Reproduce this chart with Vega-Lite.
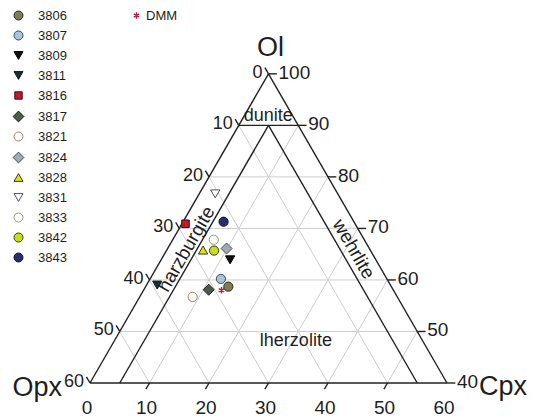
{
  "$schema": "https://vega.github.io/schema/vega-lite/v6.json",
  "width": 533,
  "height": 419,
  "autosize": "none",
  "padding": 0,
  "background": "white",
  "config": {
    "view": {"stroke": null},
    "font": "Liberation Sans, Arial, sans-serif",
    "text": {"color": "#1e1e1e"}
  },
  "datasets": {
    "lines": [
      {"kind": "grid", "ol1": 50, "cpx1": 0, "ol2": 50, "cpx2": 50},
      {"kind": "grid", "ol1": 60, "cpx1": 0, "ol2": 60, "cpx2": 40},
      {"kind": "grid", "ol1": 70, "cpx1": 0, "ol2": 70, "cpx2": 30},
      {"kind": "grid", "ol1": 80, "cpx1": 0, "ol2": 80, "cpx2": 20},
      {"kind": "grid", "ol1": 40, "cpx1": 10, "ol2": 90, "cpx2": 10},
      {"kind": "grid", "ol1": 40, "cpx1": 20, "ol2": 80, "cpx2": 20},
      {"kind": "grid", "ol1": 40, "cpx1": 30, "ol2": 70, "cpx2": 30},
      {"kind": "grid", "ol1": 40, "cpx1": 40, "ol2": 60, "cpx2": 40},
      {"kind": "grid", "ol1": 40, "cpx1": 50, "ol2": 50, "cpx2": 50},
      {"kind": "grid", "ol1": 40, "cpx1": 50, "ol2": 90, "cpx2": 0},
      {"kind": "grid", "ol1": 40, "cpx1": 40, "ol2": 80, "cpx2": 0},
      {"kind": "grid", "ol1": 40, "cpx1": 30, "ol2": 70, "cpx2": 0},
      {"kind": "grid", "ol1": 40, "cpx1": 20, "ol2": 60, "cpx2": 0},
      {"kind": "grid", "ol1": 40, "cpx1": 10, "ol2": 50, "cpx2": 0},
      {"kind": "frame", "ol1": 40, "cpx1": 0, "ol2": 40, "cpx2": 60},
      {"kind": "frame", "ol1": 40, "cpx1": 0, "ol2": 100, "cpx2": 0},
      {"kind": "frame", "ol1": 40, "cpx1": 60, "ol2": 100, "cpx2": 0},
      {"kind": "frame", "ol1": 90, "cpx1": 0, "ol2": 90, "cpx2": 10},
      {"kind": "frame", "ol1": 90, "cpx1": 5, "ol2": 40, "cpx2": 5},
      {"kind": "frame", "ol1": 90, "cpx1": 5, "ol2": 40, "cpx2": 55},
      {"kind": "tick", "ol1": 100, "cpx1": 0, "ol2": 100, "cpx2": 1.4},
      {"kind": "tick", "ol1": 90, "cpx1": 10, "ol2": 90, "cpx2": 11.4},
      {"kind": "tick", "ol1": 80, "cpx1": 20, "ol2": 80, "cpx2": 21.4},
      {"kind": "tick", "ol1": 70, "cpx1": 30, "ol2": 70, "cpx2": 31.4},
      {"kind": "tick", "ol1": 60, "cpx1": 40, "ol2": 60, "cpx2": 41.4},
      {"kind": "tick", "ol1": 50, "cpx1": 50, "ol2": 50, "cpx2": 51.4},
      {"kind": "tick", "ol1": 40, "cpx1": 60, "ol2": 40, "cpx2": 61.4},
      {"kind": "tick", "ol1": 100, "cpx1": 0, "ol2": 101.2, "cpx2": -1.2},
      {"kind": "tick", "ol1": 90, "cpx1": 0, "ol2": 91.2, "cpx2": -1.2},
      {"kind": "tick", "ol1": 80, "cpx1": 0, "ol2": 81.2, "cpx2": -1.2},
      {"kind": "tick", "ol1": 70, "cpx1": 0, "ol2": 71.2, "cpx2": -1.2},
      {"kind": "tick", "ol1": 60, "cpx1": 0, "ol2": 61.2, "cpx2": -1.2},
      {"kind": "tick", "ol1": 50, "cpx1": 0, "ol2": 51.2, "cpx2": -1.2},
      {"kind": "tick", "ol1": 40, "cpx1": 0, "ol2": 41.2, "cpx2": -1.2},
      {"kind": "tick", "ol1": 40, "cpx1": 10, "ol2": 38.8, "cpx2": 10},
      {"kind": "tick", "ol1": 40, "cpx1": 20, "ol2": 38.8, "cpx2": 20},
      {"kind": "tick", "ol1": 40, "cpx1": 30, "ol2": 38.8, "cpx2": 30},
      {"kind": "tick", "ol1": 40, "cpx1": 40, "ol2": 38.8, "cpx2": 40},
      {"kind": "tick", "ol1": 40, "cpx1": 50, "ol2": 38.8, "cpx2": 50}
    ],
    "labels": [
      {"side": "left", "ol": 100, "cpx": 0, "text": "0"},
      {"side": "left", "ol": 90, "cpx": 0, "text": "10"},
      {"side": "left", "ol": 80, "cpx": 0, "text": "20"},
      {"side": "left", "ol": 70, "cpx": 0, "text": "30"},
      {"side": "left", "ol": 60, "cpx": 0, "text": "40"},
      {"side": "left", "ol": 50, "cpx": 0, "text": "50"},
      {"side": "left", "ol": 40, "cpx": 0, "text": "60"},
      {"side": "right", "ol": 100, "cpx": 0, "text": "100"},
      {"side": "right", "ol": 90, "cpx": 10, "text": "90"},
      {"side": "right", "ol": 80, "cpx": 20, "text": "80"},
      {"side": "right", "ol": 70, "cpx": 30, "text": "70"},
      {"side": "right", "ol": 60, "cpx": 40, "text": "60"},
      {"side": "right", "ol": 50, "cpx": 50, "text": "50"},
      {"side": "right", "ol": 40, "cpx": 60, "text": "40"},
      {"side": "bottom", "ol": 40, "cpx": 0, "text": "0"},
      {"side": "bottom", "ol": 40, "cpx": 10, "text": "10"},
      {"side": "bottom", "ol": 40, "cpx": 20, "text": "20"},
      {"side": "bottom", "ol": 40, "cpx": 30, "text": "30"},
      {"side": "bottom", "ol": 40, "cpx": 40, "text": "40"},
      {"side": "bottom", "ol": 40, "cpx": 50, "text": "50"},
      {"side": "bottom", "ol": 40, "cpx": 60, "text": "60"},
      {"side": "top", "ol": 100, "cpx": 0, "text": "Ol"},
      {"side": "corner-left", "ol": 40, "cpx": 0, "text": "Opx"},
      {"side": "corner-right", "ol": 40, "cpx": 60, "text": "Cpx"},
      {"side": "field", "ol": 91.9, "cpx": 4.0, "text": "dunite"},
      {"side": "field", "ol": 48.2, "cpx": 30.5, "text": "lherzolite"},
      {"side": "field-up", "ol": 66.0, "cpx": 3.2, "text": "harzburgite"},
      {"side": "field-down", "ol": 66.0, "cpx": 31.3, "text": "wehrlite"}
    ],
    "samples": [
      {"sample": "3806", "ol": 58.7, "opx": 27.4, "cpx": 13.9},
      {"sample": "3807", "ol": 60.2, "opx": 27.9, "cpx": 11.9},
      {"sample": "3809", "ol": 63.9, "opx": 24.5, "cpx": 11.6},
      {"sample": "3811", "ol": 59.0, "opx": 39.2, "cpx": 1.8},
      {"sample": "3816", "ol": 70.9, "opx": 28.5, "cpx": 0.6},
      {"sample": "3817", "ol": 58.1, "opx": 31.0, "cpx": 10.9},
      {"sample": "3821", "ol": 56.7, "opx": 34.4, "cpx": 8.9},
      {"sample": "3824", "ol": 66.1, "opx": 24.0, "cpx": 9.9},
      {"sample": "3828", "ol": 65.8, "opx": 28.1, "cpx": 6.1},
      {"sample": "3831", "ol": 76.7, "opx": 20.6, "cpx": 2.7},
      {"sample": "3833", "ol": 67.8, "opx": 25.3, "cpx": 6.9},
      {"sample": "3842", "ol": 65.7, "opx": 26.3, "cpx": 8.0},
      {"sample": "3843", "ol": 71.3, "opx": 21.9, "cpx": 6.8}
    ],
    "ref": [
      {"ref": "DMM", "ol": 58.0, "opx": 28.9, "cpx": 13.1}
    ]
  },
  "layer": [
    {
      "data": {"name": "lines"},
      "transform": [
        {"filter": "datum.kind == 'grid'"},
        {"calculate": "datum.cpx1 + (datum.ol1 - 40) / 2", "as": "x"},
        {"calculate": "(datum.ol1 - 40) * 0.8660254", "as": "y"},
        {"calculate": "datum.cpx2 + (datum.ol2 - 40) / 2", "as": "x2"},
        {"calculate": "(datum.ol2 - 40) * 0.8660254", "as": "y2"}
      ],
      "mark": {"type": "rule", "color": "#cdcdcd", "strokeWidth": 1},
      "encoding": {
        "x": {"field": "x", "type": "quantitative", "scale": {"domain": [-15.126, 74.454], "nice": false, "zero": false}, "axis": null},
        "y": {"field": "y", "type": "quantitative", "scale": {"domain": [-6.05, 64.37], "nice": false, "zero": false}, "axis": null},
        "x2": {"field": "x2"},
        "y2": {"field": "y2"}
      }
    },
    {
      "data": {"name": "lines"},
      "transform": [
        {"filter": "datum.kind != 'grid'"},
        {"calculate": "datum.cpx1 + (datum.ol1 - 40) / 2", "as": "x"},
        {"calculate": "(datum.ol1 - 40) * 0.8660254", "as": "y"},
        {"calculate": "datum.cpx2 + (datum.ol2 - 40) / 2", "as": "x2"},
        {"calculate": "(datum.ol2 - 40) * 0.8660254", "as": "y2"}
      ],
      "mark": {"type": "rule", "color": "#222222", "strokeWidth": 1.4},
      "encoding": {
        "x": {"field": "x", "type": "quantitative", "axis": null},
        "y": {"field": "y", "type": "quantitative", "axis": null},
        "x2": {"field": "x2"},
        "y2": {"field": "y2"}
      }
    },
    {
      "data": {"name": "labels"},
      "transform": [
        {"filter": "datum.side == 'left'"},
        {"calculate": "datum.cpx + (datum.ol - 40) / 2", "as": "x"},
        {"calculate": "(datum.ol - 40) * 0.8660254", "as": "y"}
      ],
      "mark": {"type": "text", "align": "right", "baseline": "middle", "dx": -6, "dy": -1, "fontSize": 18},
      "encoding": {
        "x": {"field": "x", "type": "quantitative", "axis": null},
        "y": {"field": "y", "type": "quantitative", "axis": null},
        "text": {"field": "text"}
      }
    },
    {
      "data": {"name": "labels"},
      "transform": [
        {"filter": "datum.side == 'right'"},
        {"calculate": "datum.cpx + (datum.ol - 40) / 2", "as": "x"},
        {"calculate": "(datum.ol - 40) * 0.8660254", "as": "y"}
      ],
      "mark": {"type": "text", "align": "left", "baseline": "middle", "dx": 10, "dy": -1, "fontSize": 19},
      "encoding": {
        "x": {"field": "x", "type": "quantitative", "axis": null},
        "y": {"field": "y", "type": "quantitative", "axis": null},
        "text": {"field": "text"}
      }
    },
    {
      "data": {"name": "labels"},
      "transform": [
        {"filter": "datum.side == 'bottom'"},
        {"calculate": "datum.cpx + (datum.ol - 40) / 2", "as": "x"},
        {"calculate": "(datum.ol - 40) * 0.8660254", "as": "y"}
      ],
      "mark": {"type": "text", "align": "center", "baseline": "middle", "dx": -3, "dy": 25, "fontSize": 19},
      "encoding": {
        "x": {"field": "x", "type": "quantitative", "axis": null},
        "y": {"field": "y", "type": "quantitative", "axis": null},
        "text": {"field": "text"}
      }
    },
    {
      "data": {"name": "labels"},
      "transform": [
        {"filter": "datum.side == 'top'"},
        {"calculate": "datum.cpx + (datum.ol - 40) / 2", "as": "x"},
        {"calculate": "(datum.ol - 40) * 0.8660254", "as": "y"}
      ],
      "mark": {"type": "text", "align": "center", "baseline": "middle", "dx": 2, "dy": -26, "fontSize": 27},
      "encoding": {
        "x": {"field": "x", "type": "quantitative", "axis": null},
        "y": {"field": "y", "type": "quantitative", "axis": null},
        "text": {"field": "text"}
      }
    },
    {
      "data": {"name": "labels"},
      "transform": [
        {"filter": "datum.side == 'corner-left'"},
        {"calculate": "datum.cpx + (datum.ol - 40) / 2", "as": "x"},
        {"calculate": "(datum.ol - 40) * 0.8660254", "as": "y"}
      ],
      "mark": {"type": "text", "align": "right", "baseline": "middle", "dx": -28, "dy": 5, "fontSize": 27},
      "encoding": {
        "x": {"field": "x", "type": "quantitative", "axis": null},
        "y": {"field": "y", "type": "quantitative", "axis": null},
        "text": {"field": "text"}
      }
    },
    {
      "data": {"name": "labels"},
      "transform": [
        {"filter": "datum.side == 'corner-right'"},
        {"calculate": "datum.cpx + (datum.ol - 40) / 2", "as": "x"},
        {"calculate": "(datum.ol - 40) * 0.8660254", "as": "y"}
      ],
      "mark": {"type": "text", "align": "left", "baseline": "middle", "dx": 32, "dy": 4, "fontSize": 27},
      "encoding": {
        "x": {"field": "x", "type": "quantitative", "axis": null},
        "y": {"field": "y", "type": "quantitative", "axis": null},
        "text": {"field": "text"}
      }
    },
    {
      "data": {"name": "labels"},
      "transform": [
        {"filter": "datum.side == 'field'"},
        {"calculate": "datum.cpx + (datum.ol - 40) / 2", "as": "x"},
        {"calculate": "(datum.ol - 40) * 0.8660254", "as": "y"}
      ],
      "mark": {"type": "text", "align": "center", "baseline": "middle", "fontSize": 18},
      "encoding": {
        "x": {"field": "x", "type": "quantitative", "axis": null},
        "y": {"field": "y", "type": "quantitative", "axis": null},
        "text": {"field": "text"}
      }
    },
    {
      "data": {"name": "labels"},
      "transform": [
        {"filter": "datum.side == 'field-up'"},
        {"calculate": "datum.cpx + (datum.ol - 40) / 2", "as": "x"},
        {"calculate": "(datum.ol - 40) * 0.8660254", "as": "y"}
      ],
      "mark": {"type": "text", "align": "center", "baseline": "middle", "fontSize": 19, "angle": 300},
      "encoding": {
        "x": {"field": "x", "type": "quantitative", "axis": null},
        "y": {"field": "y", "type": "quantitative", "axis": null},
        "text": {"field": "text"}
      }
    },
    {
      "data": {"name": "labels"},
      "transform": [
        {"filter": "datum.side == 'field-down'"},
        {"calculate": "datum.cpx + (datum.ol - 40) / 2", "as": "x"},
        {"calculate": "(datum.ol - 40) * 0.8660254", "as": "y"}
      ],
      "mark": {"type": "text", "align": "center", "baseline": "middle", "fontSize": 19, "angle": 60},
      "encoding": {
        "x": {"field": "x", "type": "quantitative", "axis": null},
        "y": {"field": "y", "type": "quantitative", "axis": null},
        "text": {"field": "text"}
      }
    },
    {
      "data": {"name": "ref"},
      "transform": [
        {"calculate": "datum.cpx + (datum.ol - 40) / 2", "as": "x"},
        {"calculate": "(datum.ol - 40) * 0.8660254", "as": "y"}
      ],
      "mark": {"type": "point", "strokeWidth": 1.5, "opacity": 1, "size": 40},
      "encoding": {
        "x": {"field": "x", "type": "quantitative", "axis": null},
        "y": {"field": "y", "type": "quantitative", "axis": null},
        "shape": {
          "field": "ref", "type": "nominal",
          "scale": {"domain": ["DMM"], "range": ["M0,-1L0,1M-0.866,-0.5L0.866,0.5M-0.866,0.5L0.866,-0.5"]},
          "legend": {"orient": "none", "legendX": 130, "legendY": 9, "title": null, "padding": 0, "labelFontSize": 13, "labelOffset": 3, "symbolSize": 40, "symbolStrokeWidth": 1.5, "symbolStrokeColor": "#c41e3a", "labelColor": "#1e1e1e"}
        },
        "stroke": {
          "field": "ref", "type": "nominal",
          "scale": {"domain": ["DMM"], "range": ["#c41e3a"]},
          "legend": null
        }
      }
    },
    {
      "data": {"name": "samples"},
      "transform": [
        {"calculate": "datum.cpx + (datum.ol - 40) / 2", "as": "x"},
        {"calculate": "(datum.ol - 40) * 0.8660254", "as": "y"}
      ],
      "mark": {"type": "point", "strokeWidth": 1, "opacity": 1, "size": 85},
      "encoding": {
        "x": {"field": "x", "type": "quantitative", "axis": null},
        "y": {"field": "y", "type": "quantitative", "axis": null},
        "shape": {
          "field": "sample", "type": "nominal",
          "scale": {
            "domain": ["3806", "3807", "3809", "3811", "3816", "3817", "3821", "3824", "3828", "3831", "3833", "3842", "3843"],
            "range": ["circle", "circle", "triangle-down", "triangle-down", "M-0.82,-0.82L0.82,-0.82L0.82,0.82L-0.82,0.82Z", "M0,-1.2L1.2,0L0,1.2L-1.2,0Z", "circle", "M0,-1.2L1.2,0L0,1.2L-1.2,0Z", "triangle-up", "triangle-down", "circle", "circle", "circle"]
          },
          "legend": {"orient": "none", "legendX": 12, "legendY": 9, "title": null, "padding": 0, "labelFontSize": 13, "labelOffset": 13, "symbolSize": 81, "rowPadding": 6, "labelColor": "#1e1e1e", "symbolStrokeWidth": 1}
        },
        "fill": {
          "field": "sample", "type": "nominal",
          "scale": {
            "domain": ["3806", "3807", "3809", "3811", "3816", "3817", "3821", "3824", "3828", "3831", "3833", "3842", "3843"],
            "range": ["#7d7d55", "#a8c4da", "#111111", "#16302f", "#c01a2c", "#4c5c4a", "#ffffff", "#a3a9b1", "#e2e020", "#ffffff", "#ffffff", "#c6de1e", "#2c2c6c"]
          },
          "legend": {"orient": "none", "legendX": 12, "legendY": 9, "title": null, "padding": 0, "labelFontSize": 13, "labelOffset": 13, "symbolSize": 81, "rowPadding": 6, "labelColor": "#1e1e1e", "symbolStrokeWidth": 1}
        },
        "stroke": {
          "field": "sample", "type": "nominal",
          "scale": {
            "domain": ["3806", "3807", "3809", "3811", "3816", "3817", "3821", "3824", "3828", "3831", "3833", "3842", "3843"],
            "range": ["#2a2a1a", "#3a4a5a", "#000000", "#0a1a1a", "#3a1010", "#1a221a", "#b07a6a", "#4a5058", "#3a3a10", "#505064", "#9a9a7a", "#3a4010", "#14143a"]
          },
          "legend": {"orient": "none", "legendX": 12, "legendY": 9, "title": null, "padding": 0, "labelFontSize": 13, "labelOffset": 13, "symbolSize": 81, "rowPadding": 6, "labelColor": "#1e1e1e", "symbolStrokeWidth": 1}
        }
      }
    }
  ],
  "resolve": {"scale": {"shape": "independent", "fill": "independent", "stroke": "independent"}}
}
